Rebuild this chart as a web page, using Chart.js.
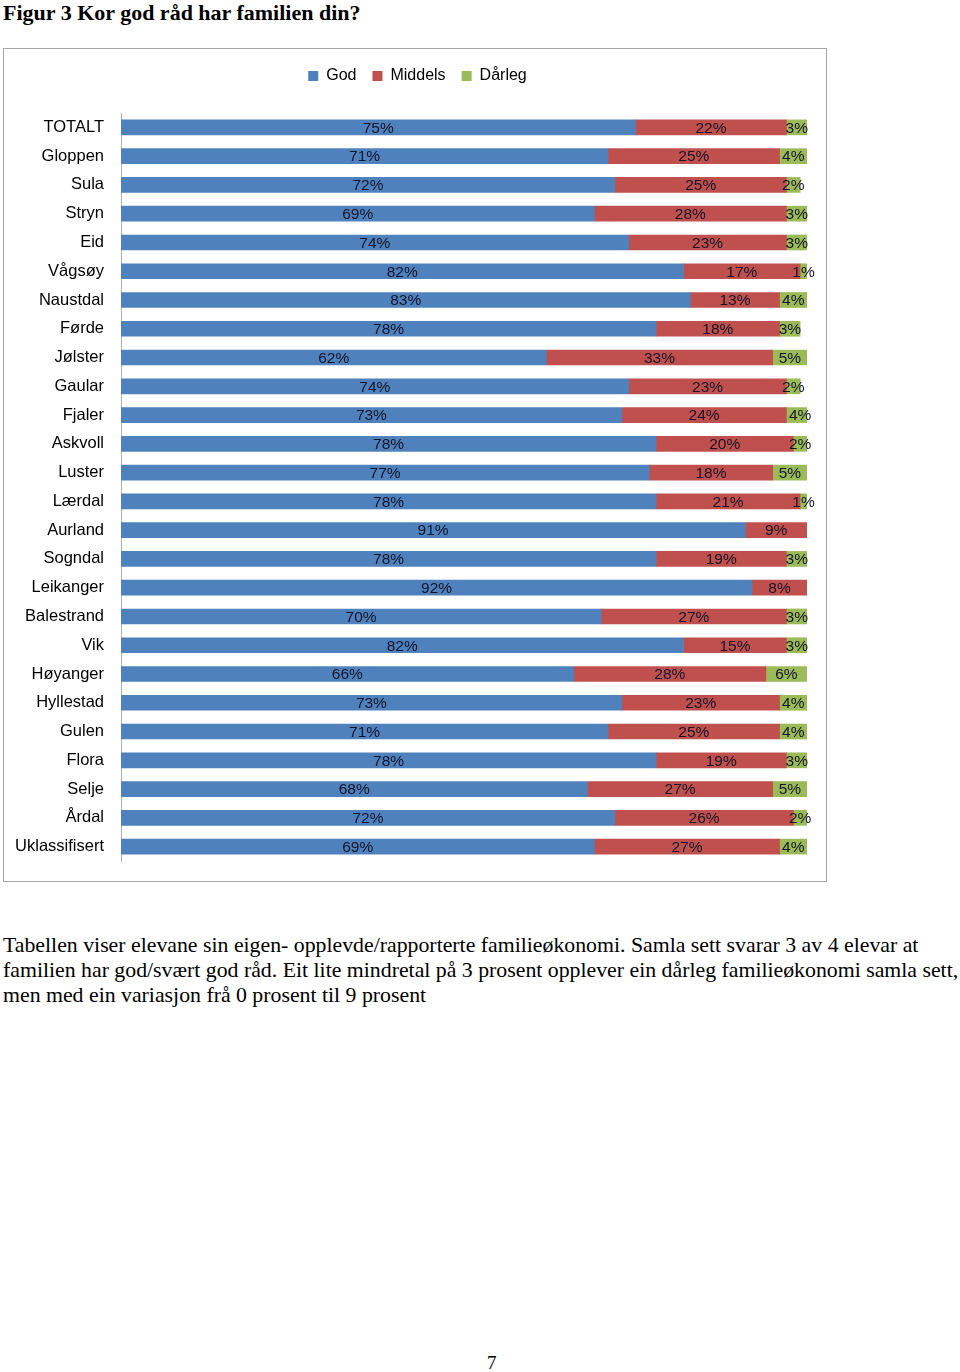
<!DOCTYPE html>
<html>
<head>
<meta charset="utf-8">
<script src="https://cdn.jsdelivr.net/npm/chart.js@4.4.1/dist/chart.umd.min.js"></script>
<style>
  body { margin: 0; background: #fff; width: 960px; height: 1372px; position: relative; overflow: hidden; }
  #title { position: absolute; left: 3px; top: 0px; font: bold 22px "Liberation Serif", serif; white-space: nowrap; }
  #frame { position: absolute; left: 3px; top: 48px; width: 822px; height: 832px; border: 1px solid #a6a6a6; }
  #frame canvas { position: absolute; left: 0; top: 0; }
  #text { position: absolute; left: 3px; top: 933px; font: 21.8px/25px "Liberation Serif", serif; white-space: nowrap; }
  #page { position: absolute; left: 487px; top: 1352px; font: 19px "Liberation Serif", serif; }
</style>
</head>
<body>
<div id="title">Figur 3 Kor god råd har familien din?</div>
<div id="frame"><canvas id="chart" width="822" height="832"></canvas></div>
<div id="text">Tabellen viser elevane sin eigen- opplevde/rapporterte familieøkonomi. Samla sett svarar 3 av 4 elevar at<br>familien har god/svært god råd. Eit lite mindretal på 3 prosent opplever ein dårleg familieøkonomi samla sett,<br>men med ein variasjon frå 0 prosent til 9 prosent</div>
<div id="page">7</div>
<script>
const kommunar = ['TOTALT', 'Gloppen', 'Sula', 'Stryn', 'Eid', 'Vågsøy', 'Naustdal', 'Førde', 'Jølster', 'Gaular',
    'Fjaler', 'Askvoll', 'Luster', 'Lærdal', 'Aurland', 'Sogndal', 'Leikanger', 'Balestrand', 'Vik', 'Høyanger',
    'Hyllestad', 'Gulen', 'Flora', 'Selje', 'Årdal', 'Uklassifisert'];
const god =     [75, 71, 72, 69, 74, 82, 83, 78, 62, 74, 73, 78, 77, 78, 91, 78, 92, 70, 82, 66, 73, 71, 78, 68, 72, 69];
const middels = [22, 25, 25, 28, 23, 17, 13, 18, 33, 23, 24, 20, 18, 21, 9, 19, 8, 27, 15, 28, 23, 25, 19, 27, 26, 27];
const darleg =  [3, 4, 2, 3, 3, 1, 4, 3, 5, 2, 4, 2, 5, 1, 0, 3, 0, 3, 3, 6, 4, 4, 3, 5, 2, 4];

const font = '"Liberation Sans", Arial, sans-serif';

// value labels in the middle of each segment
const segLabels = {
    id: 'segLabels',
    afterDatasetsDraw(chart) {
        const ctx = chart.ctx;
        ctx.save();
        ctx.font = '15.5px ' + font;
        ctx.fillStyle = '#15152a';
        ctx.textAlign = 'center';
        ctx.textBaseline = 'middle';
        chart.data.datasets.forEach((ds, i) => {
            chart.getDatasetMeta(i).data.forEach((bar, j) => {
                const v = ds.data[j];
                if (!v) return;
                const p = bar.getProps(['x', 'y', 'base'], true);
                ctx.fillText(v + '%', (p.x + p.base) / 2, p.y + 1);
            });
        });
        ctx.restore();
    }
};

// extra room under the legend, and nudge it a bit right like the original
const legendGap = {
    id: 'legendGap',
    beforeInit(chart) {
        const fit = chart.legend.fit;
        chart.legend.fit = function () {
            fit.bind(chart.legend)();
            this.height += 19;
        };
    },
    afterLayout(chart) {
        chart.legend.left += 12;
        chart.legend.right += 12;
    }
};

new Chart(document.getElementById('chart'), {
    type: 'bar',
    data: {
        labels: kommunar,
        datasets: [
            { label: 'God', data: god, backgroundColor: '#4f81bd' },
            { label: 'Middels', data: middels, backgroundColor: '#c0504d' },
            { label: 'Dårleg', data: darleg, backgroundColor: '#9bbb59' }
        ]
    },
    options: {
        indexAxis: 'y',
        responsive: false,
        animation: false,
        barThickness: 15,
        layout: { padding: { left: 0, right: 19, top: 3, bottom: 20 } },
        plugins: {
            legend: {
                position: 'top',
                labels: { boxWidth: 10, boxHeight: 10, padding: 16, color: '#000', font: { family: font, size: 16 } }
            },
            tooltip: { enabled: false }
        },
        scales: {
            x: { stacked: true, min: 0, max: 100, display: false },
            y: {
                stacked: true,
                grid: { display: false, drawTicks: false },
                border: { color: '#b0b0b0' },
                ticks: { color: '#000', padding: 17, font: { family: font, size: 16.5 } },
                afterFit(s) {
                    s.width = 117;
                    s.paddingTop = 0;
                    s.paddingBottom = 0;
                }
            }
        }
    },
    plugins: [segLabels, legendGap]
});
</script>
</body>
</html>
